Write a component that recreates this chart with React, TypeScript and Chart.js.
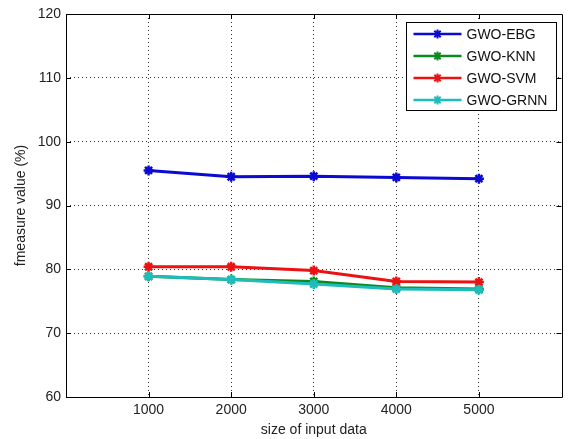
import React, { useEffect, useRef } from "react";
import { Chart, registerables } from "chart.js";

Chart.register(...registerables);

const sizes = [1000, 2000, 3000, 4000, 5000];
const xTicks = [1000, 2000, 3000, 4000, 5000];
const yTicks = [60, 70, 80, 90, 100, 110, 120];
const ebg = [95.5, 94.5, 94.6, 94.4, 94.2];
const knn = [78.9, 78.4, 78.1, 77.1, 76.9];
const svm = [80.4, 80.4, 79.8, 78.1, 78.0];
const grnn = [78.9, 78.4, 77.7, 76.9, 76.8];
const seriesNames = ["GWO-EBG", "GWO-KNN", "GWO-SVM", "GWO-GRNN"];
const seriesColors = ["#0a0ad2", "#0a8a1e", "#ea1212", "#1fbcbc"];

const FONT = "'Liberation Sans', Arial, sans-serif";

const framePlugin = {
  id: "matlabFrame",
  afterDraw(chart: any) {
    const ctx = chart.ctx;
    const { left, right, top, bottom } = chart.chartArea;
    const xs = chart.scales.x;
    const ys = chart.scales.y;
    ctx.save();
    ctx.strokeStyle = "#000";
    ctx.lineWidth = 1;
    ctx.beginPath();
    ctx.rect(Math.round(left) + 0.5, Math.round(top) + 0.5, Math.round(right - left), Math.round(bottom - top));
    ctx.stroke();
    const tl = 5;
    ctx.beginPath();
    xTicks.forEach((v) => {
      const px = Math.round(xs.getPixelForValue(v)) + 0.5;
      ctx.moveTo(px, bottom);
      ctx.lineTo(px, bottom - tl);
      ctx.moveTo(px, top);
      ctx.lineTo(px, top + tl);
    });
    yTicks.forEach((v) => {
      const py = Math.round(ys.getPixelForValue(v)) + 0.5;
      ctx.moveTo(left, py);
      ctx.lineTo(left + tl, py);
      ctx.moveTo(right, py);
      ctx.lineTo(right - tl, py);
    });
    ctx.stroke();

    // legend
    const w = 150;
    const h = 88;
    const lx = Math.round(right - 6 - w) + 0.5;
    const ly = Math.round(top + 8) + 0.5;
    ctx.fillStyle = "#fff";
    ctx.fillRect(lx, ly, w, h);
    ctx.strokeStyle = "#000";
    ctx.strokeRect(lx, ly, w, h);
    const dsets = chart.data.datasets;
    ctx.font = "14px " + FONT;
    ctx.textBaseline = "middle";
    ctx.textAlign = "left";
    dsets.forEach((ds: any, i: number) => {
      const ry = ly + 11.5 + i * 22;
      ctx.strokeStyle = ds.borderColor;
      ctx.lineWidth = 2.5;
      ctx.beginPath();
      ctx.moveTo(lx + 7, ry);
      ctx.lineTo(lx + 55, ry);
      ctx.stroke();
      // marker
      const cx = lx + 31;
      const r = 4.5;
      ctx.lineWidth = 2;
      ctx.beginPath();
      for (let k = 0; k < 4; k++) {
        const a = (k * Math.PI) / 4 + Math.PI / 2;
        ctx.moveTo(cx + r * Math.cos(a), ry + r * Math.sin(a));
        ctx.lineTo(cx - r * Math.cos(a), ry - r * Math.sin(a));
      }
      ctx.stroke();
      ctx.fillStyle = "#111";
      ctx.fillText(ds.label, lx + 60, ry + 1);
    });
    ctx.restore();
  },
};

export default function App() {
  const ref = useRef<HTMLCanvasElement | null>(null);
  useEffect(() => {
    document.body.style.margin = "0";
    const canvas = ref.current;
    if (!canvas) return;
    const series = [ebg, knn, svm, grnn];
    const chart = new Chart(canvas, {
      type: "line",
      data: {
        datasets: series.map((vals, i) => ({
          label: seriesNames[i],
          data: sizes.map((s, j) => ({ x: s, y: vals[j] })),
          borderColor: seriesColors[i],
          backgroundColor: seriesColors[i],
          borderWidth: 3,
          pointStyle: "star",
          pointRadius: 5,
          pointBorderWidth: 2.5,
          pointHoverRadius: 5,
          order: 4 - i,
          tension: 0,
        })),
      },
      options: {
        responsive: false,
        animation: false,
        devicePixelRatio: 1,
        layout: { padding: { top: 14, right: 7, left: 0, bottom: 0 } },
        plugins: {
          legend: { display: false },
          tooltip: { enabled: false },
        },
        scales: {
          x: {
            type: "linear",
            min: 0,
            max: 6000,
            afterBuildTicks: (scale: any) => {
              scale.ticks = xTicks.map((v) => ({ value: v }));
            },
            afterFit: (scale: any) => {
              scale.height = 42;
            },
            grid: {
              color: "#333",
              lineWidth: 1,
              drawTicks: false,
            },
            border: { display: false, dash: [1, 3] },
            ticks: {
              font: { family: FONT, size: 14 },
              color: "#222",
              padding: 5,
              maxRotation: 0,
              callback: (v: any) => String(v),
            },
            title: {
              display: true,
              text: "size of input data",
              font: { family: FONT, size: 14 },
              color: "#222",
              padding: { top: 2, bottom: 0 },
            },
          },
          y: {
            type: "linear",
            min: 60,
            max: 120,
            afterBuildTicks: (scale: any) => {
              scale.ticks = yTicks.map((v) => ({ value: v }));
            },
            afterFit: (scale: any) => {
              scale.width = 66;
            },
            grid: {
              color: "#333",
              lineWidth: 1,
              drawTicks: false,
            },
            border: { display: false, dash: [1, 3] },
            ticks: {
              font: { family: FONT, size: 14 },
              color: "#222",
              padding: 5,
            },
            title: {
              display: true,
              text: "fmeasure value (%)",
              font: { family: FONT, size: 14 },
              color: "#222",
              padding: { top: 13, bottom: 0 },
            },
          },
        },
      },
      plugins: [framePlugin],
    } as any);
    return () => chart.destroy();
  }, []);
  return (
    <div style={{ position: "absolute", left: 0, top: 0, width: 569, height: 439, background: "#fff" }}>
      <canvas ref={ref} width={569} height={439} />
    </div>
  );
}
